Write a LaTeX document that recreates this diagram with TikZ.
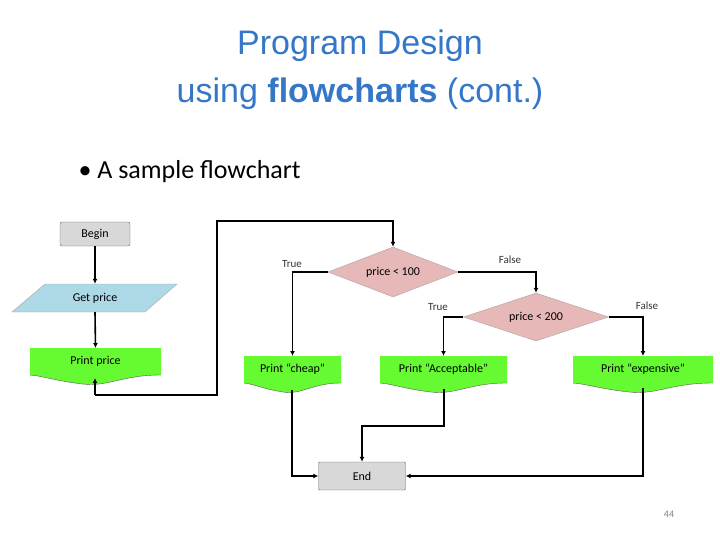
\documentclass[tikz,border=0pt]{standalone}
\usepackage{fontspec}
\setmainfont{Carlito}
\newfontfamily\titlefont{Liberation Sans}
\usetikzlibrary{shapes.geometric,arrows.meta,calc}
\definecolor{titleblue}{RGB}{52,118,200}
\definecolor{docgreen}{RGB}{102,250,51}
\definecolor{termgrey}{RGB}{216,216,216}
\definecolor{iblue}{RGB}{173,216,230}
\definecolor{dpink}{RGB}{230,184,183}
\begin{document}
\begin{tikzpicture}[x=1pt,y=-1pt,
  every node/.style={font=\fontsize{12}{14}\selectfont},
  term/.style={draw=gray!80!black,fill=termgrey,rounded corners=2pt,inner sep=0pt},
  dec/.style={diamond,draw=gray!70,fill=dpink,aspect=2.6,inner sep=0pt},
  lbl/.style={font=\fontsize{11}{13}\selectfont,text=black!80},
  line/.style={line width=1.6pt},
  arr/.style={line,-{Latex[length=5pt,width=5pt]}}
]
\useasboundingbox (0,0) rectangle (720,540);
% title
\node[font=\titlefont\fontsize{34}{40}\selectfont,text=titleblue] (t1) at (360,46) {Program Design};
\node[font=\titlefont\fontsize{34}{40}\selectfont,text=titleblue] (t2) at (360,94) {using \textbf{flowcharts} (cont.)};
\node[font=\fontsize{26}{30}\selectfont,anchor=west] (bul) at (75,172) {\textbullet\ A sample flowchart};

% document shape helper
\newcommand{\docshape}[6]{% name, x1, x2, y1, y2, text
  \fill[docgreen] (#2,#4) -- (#3,#4) -- (#3,#5) .. controls ({#2+0.7*(#3-#2)},#5) and ({#2+0.6*(#3-#2)},{#5+12}) .. ({#2+0.4*(#3-#2)},{#5+9})
     .. controls ({#2+0.2*(#3-#2)},{#5+6}) and ({#2+0.1*(#3-#2)},{#5+1}) .. (#2,#5) -- cycle;
  \draw[gray!70!black,thin] (#3,#5) .. controls ({#2+0.7*(#3-#2)},#5) and ({#2+0.6*(#3-#2)},{#5+12}) .. ({#2+0.4*(#3-#2)},{#5+9})
     .. controls ({#2+0.2*(#3-#2)},{#5+6}) and ({#2+0.1*(#3-#2)},{#5+1}) .. (#2,#5);
  \node[minimum width={#3-#2},minimum height={#5-#4+10},inner sep=0pt,anchor=north] (#1) at ({(#2+#3)/2},#4) {};
  \node at ({(#2+#3)/2},{#4+13}) {#6};
}

\node[term,minimum width=70pt,minimum height=24pt] (begin) at (95,234) {Begin};
% input parallelogram
\filldraw[fill=iblue,draw=gray!70] (45,284) -- (177,284) -- (145,312) -- (12,312) -- cycle;
\node[minimum width=100pt,minimum height=28pt,inner sep=0pt] (get) at (95,298) {Get price};
\docshape{print}{30}{161}{348}{375}{Print price}
\docshape{cheap}{244}{341}{356}{383}{Print “cheap”}
\docshape{acc}{380}{507}{356}{383}{Print “Acceptable”}
\docshape{exp}{573}{713}{356}{383}{Print “expensive”}
\node[dec,minimum width=130pt,minimum height=50pt] (d1) at (393,272) {price < 100};
\node[dec,minimum width=145pt,minimum height=48pt] (d2) at (536,317) {price < 200};
\node[term,minimum width=87pt,minimum height=28pt,rounded corners=1pt] (end) at (362,476) {End};

\node[lbl] (tr1) at (292,264) {True};
\node[lbl] (fa1) at (510,260) {False};
\node[lbl] (tr2) at (438,307) {True};
\node[lbl] (fa2) at (647,306) {False};
\node[font=\fontsize{10}{12}\selectfont,text=gray] (pg) at (669,514) {44};

\coordinate (loop) at (95,395);
\draw[arr] (begin) -- (get);
\draw[arr] (get.south) -- (print.north);
\draw[arr] (loop) -- (95,378);
\draw[arr] (loop) -- (217,395) -- (217,221) -- (393,221) -- (d1.north);
\draw[arr] (d1.west) -| (cheap.north);
\draw[arr] (d1.east) -| (d2.north);
\draw[arr] (d2.west) -| (acc.north);
\draw[arr] (d2.east) -| (exp.north);
\draw[arr] (292,390) |- (end.west);
\draw[arr] (444,389) -- (444,426) -| (end.north);
\draw[arr] (643,388) |- (end.east);
\end{tikzpicture}
\end{document}
